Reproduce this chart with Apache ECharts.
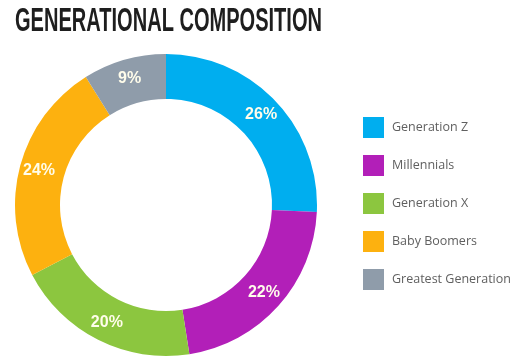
<!DOCTYPE html>
<html><head><meta charset="utf-8">
<script src="https://cdn.jsdelivr.net/npm/echarts@6/dist/echarts.min.js"></script>
<style>html,body{margin:0;padding:0;background:#fff}#c{width:525px;height:360px}</style>
</head><body><div id="c"></div>
<script>
var titleText = 'GENERATIONAL COMPOSITION';
var categories = ['Generation Z', 'Millennials', 'Generation X', 'Baby Boomers', 'Greatest Generation'];
var values = [26, 22, 20, 24, 9];
var colors = ['#00AEEF', '#B21FB8', '#8CC63F', '#FDB10F', '#8F9CAA'];

var titleFont = 'bold 34px "Liberation Sans"';
var cv = document.createElement('canvas').getContext('2d');
cv.font = titleFont;
var tw = cv.measureText(titleText).width;
var sx = 307 / tw;

var chart = echarts.init(document.getElementById('c'));
chart.setOption({
  animation: false,
  graphic: [{
    type: 'text', x: 15, y: 5, scaleX: sx,
    style: { text: titleText, font: titleFont, fill: '#1e1e1e' }
  }],
  legend: {
    orient: 'vertical', left: 358, top: 112,
    itemWidth: 21, itemHeight: 21, itemGap: 17, icon: 'rect',
    data: categories,
    textStyle: { fontFamily: 'Open Sans', fontSize: 12.5, color: '#606060', padding: [0, 0, 0, 3] }
  },
  series: [{
    type: 'pie', center: [166, 205], radius: [106, 151],
    startAngle: 90, clockwise: true, avoidLabelOverlap: false,
    label: {
      show: true, position: 'inside', formatter: '{c}%',
      fontFamily: 'Liberation Sans', fontWeight: 'bold', fontSize: 16,
      color: '#FFFDEB'
    },
    labelLine: { show: false },
    itemStyle: { borderWidth: 0 },
    emphasis: { disabled: true },
    data: categories.map(function (n, i) {
      return { name: n, value: values[i], itemStyle: { color: colors[i] } };
    })
  }]
});
</script></body></html>
